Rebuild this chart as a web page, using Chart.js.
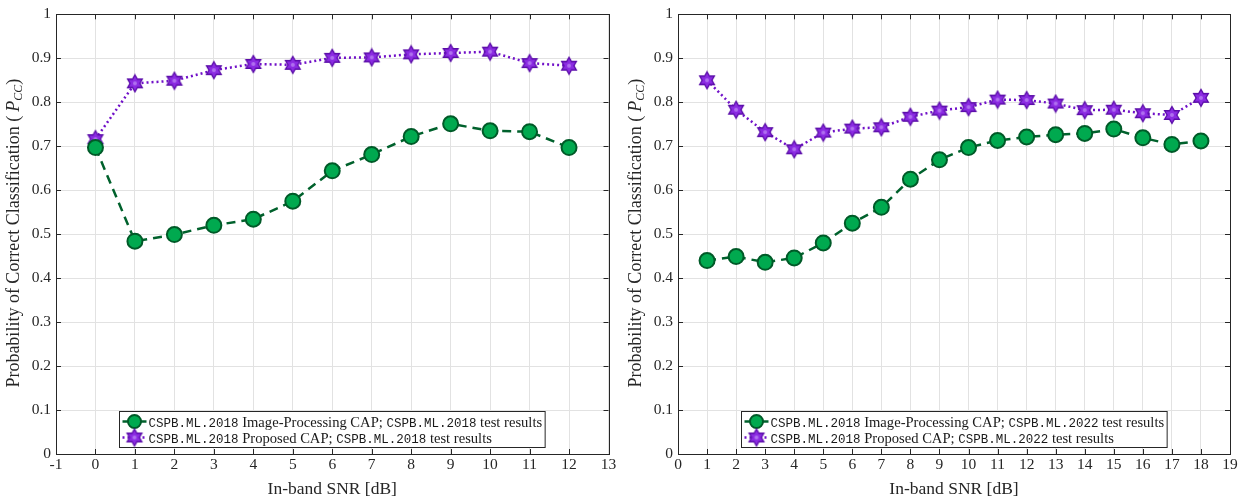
<!DOCTYPE html>
<html>
<head>
<meta charset="utf-8">
<script src="https://cdn.jsdelivr.net/npm/chart.js@4.4.1/dist/chart.umd.min.js"></script>
<style>
  html, body { margin:0; padding:0; background:#fff; }
  #wrap { position:relative; width:1253px; height:498px; }
  .box { position:absolute; top:0; height:498px; }
</style>
</head>
<body>
<div id="wrap">
  <div class="box" style="left:0;width:620px"><canvas id="leftChart"></canvas></div>
  <div class="box" style="left:620px;width:633px"><canvas id="rightChart"></canvas></div>
</div>
<script>
// data
var snrLeft = [0,1,2,3,4,5,6,7,8,9,10,11,12];
var imgCapLeft = [0.697,0.484,0.499,0.520,0.534,0.575,0.644,0.681,0.722,0.751,0.735,0.733,0.697];
var propCapLeft = [0.716,0.843,0.849,0.873,0.887,0.885,0.901,0.902,0.909,0.912,0.915,0.889,0.883];

var snrRight = [1,2,3,4,5,6,7,8,9,10,11,12,13,14,15,16,17,18];
var imgCapRight = [0.440,0.449,0.436,0.446,0.480,0.525,0.561,0.625,0.669,0.697,0.713,0.721,0.726,0.729,0.739,0.719,0.704,0.712];
var propCapRight = [0.850,0.783,0.732,0.693,0.731,0.740,0.743,0.767,0.781,0.789,0.806,0.805,0.797,0.782,0.783,0.775,0.771,0.810];

var legendLeft = [
  [['m','CSPB.ML.2018'],['s',' Image-Processing CAP; '],['m','CSPB.ML.2018'],['s',' test results']],
  [['m','CSPB.ML.2018'],['s',' Proposed CAP; '],['m','CSPB.ML.2018'],['s',' test results']]
];
var legendRight = [
  [['m','CSPB.ML.2018'],['s',' Image-Processing CAP; '],['m','CSPB.ML.2022'],['s',' test results']],
  [['m','CSPB.ML.2018'],['s',' Proposed CAP; '],['m','CSPB.ML.2022'],['s',' test results']]
];

var SERIF = '"Liberation Serif", "DejaVu Serif", serif';
var MONO = '"Liberation Mono", "DejaVu Sans Mono", monospace';
var GREEN_LINE = '#00612c', GREEN_FILL = '#00a94f', GREEN_EDGE = '#005a28';
var PURPLE_LINE = '#7010c8', PURPLE_FILL = '#8b2be2', PURPLE_EDGE = '#5a0ca8';
var LEG_MONO = '12.5px ' + MONO, LEG_SERIF = '14.6px ' + SERIF;

// six-pointed star marker
function makeStar() {
  var c = document.createElement('canvas');
  c.width = 20; c.height = 20;
  var g = c.getContext('2d');
  var cx = 10, cy = 10, r = 8.5;
  g.beginPath();
  for (var i = 0; i < 12; i++) {
    var a = -Math.PI / 2 + i * Math.PI / 6;
    var rr = (i % 2 === 0) ? r : r * 0.577;
    var px = cx + rr * Math.cos(a), py = cy + rr * Math.sin(a);
    if (i === 0) g.moveTo(px, py); else g.lineTo(px, py);
  }
  g.closePath();
  g.fillStyle = PURPLE_FILL; g.fill();
  g.lineWidth = 1.3; g.strokeStyle = PURPLE_EDGE; g.stroke();
  g.beginPath(); g.arc(cx, cy, 2, 0, Math.PI * 2);
  g.fillStyle = '#b070f0'; g.fill();
  return c;
}
var starImg = makeStar();

function toPts(xs, ys) {
  return xs.map(function(x, i) { return { x: x, y: ys[i] }; });
}

function drawSegments(ctx, segs, x, y) {
  segs.forEach(function(s) {
    ctx.font = s[0] === 'm' ? LEG_MONO : LEG_SERIF;
    ctx.fillText(s[1], x, y);
    x += ctx.measureText(s[1]).width;
  });
  return x;
}

var decor = {
  id: 'decor',
  beforeDatasetsDraw: function(chart) {
    var ctx = chart.ctx, a = chart.chartArea;
    var xs = chart.scales.x, ys = chart.scales.y;
    ctx.save();
    ctx.strokeStyle = '#262626'; ctx.lineWidth = 1;
    // inward ticks
    xs.ticks.forEach(function(t) {
      var px = Math.round(xs.getPixelForValue(t.value)) + 0.5;
      ctx.beginPath();
      ctx.moveTo(px, a.bottom); ctx.lineTo(px, a.bottom - 5);
      ctx.moveTo(px, a.top); ctx.lineTo(px, a.top + 5);
      ctx.stroke();
    });
    ys.ticks.forEach(function(t) {
      var py = Math.round(ys.getPixelForValue(t.value)) + 0.5;
      ctx.beginPath();
      ctx.moveTo(a.left, py); ctx.lineTo(a.left + 5, py);
      ctx.moveTo(a.right, py); ctx.lineTo(a.right - 5, py);
      ctx.stroke();
    });
    ctx.strokeRect(Math.round(a.left) + 0.5, Math.round(a.top) + 0.5,
      Math.round(a.right - a.left), Math.round(a.bottom - a.top));
    ctx.restore();
  },
  afterDraw: function(chart) {
    var ctx = chart.ctx, a = chart.chartArea;
    var opts = chart.options.plugins.decor;
    ctx.save();
    ctx.fillStyle = '#262626';
    // x title
    ctx.font = '17.5px ' + SERIF;
    ctx.textAlign = 'center'; ctx.textBaseline = 'alphabetic';
    ctx.fillText('In-band SNR [dB]', (a.left + a.right) / 2, a.bottom + 40);
    // y title
    ctx.translate(a.left - 37, (a.top + a.bottom) / 2 - 1);
    ctx.rotate(-Math.PI / 2);
    ctx.textAlign = 'left';
    var parts = [
      ['18px ' + SERIF, 'Probability of Correct Classification (', 0],
      ['italic 18px ' + SERIF, 'P', 0],
      ['italic 12px ' + SERIF, 'CC', 3],
      ['18px ' + SERIF, ')', 0]
    ];
    var total = 0;
    parts.forEach(function(p) { ctx.font = p[0]; total += ctx.measureText(p[1]).width + (p[1] === 'P' ? 4 : 0); });
    var x = -total / 2;
    parts.forEach(function(p) {
      ctx.font = p[0];
      if (p[1] === 'P') x += 4;
      ctx.fillText(p[1], x, p[2]);
      x += ctx.measureText(p[1]).width;
    });
    ctx.restore();

    // legend
    ctx.save();
    var rows = opts.legend;
    ctx.textBaseline = 'alphabetic';
    var textW = 0;
    rows.forEach(function(r) {
      var w = 0;
      r.forEach(function(s) { ctx.font = s[0] === 'm' ? LEG_MONO : LEG_SERIF; w += ctx.measureText(s[1]).width; });
      textW = Math.max(textW, w);
    });
    var bw = textW + 32, bh = 36;
    var bx = Math.round((a.left + a.right) / 2 - bw / 2) + 0.5;
    var by = Math.round(a.bottom - 7 - bh) + 0.5;
    ctx.fillStyle = '#fff'; ctx.fillRect(bx, by, bw, bh);
    ctx.strokeStyle = '#262626'; ctx.lineWidth = 1; ctx.strokeRect(bx, by, bw, bh);
    var rowY = [by + 10, by + 26];
    // sample 1
    ctx.strokeStyle = GREEN_LINE; ctx.lineWidth = 2.5; ctx.setLineDash([]);
    ctx.beginPath(); ctx.moveTo(bx + 3, rowY[0]); ctx.lineTo(bx + 27, rowY[0]); ctx.stroke();
    ctx.beginPath(); ctx.arc(bx + 15, rowY[0], 6.5, 0, Math.PI * 2);
    ctx.fillStyle = GREEN_FILL; ctx.fill(); ctx.lineWidth = 2; ctx.strokeStyle = GREEN_EDGE; ctx.stroke();
    // sample 2
    ctx.strokeStyle = PURPLE_LINE; ctx.lineWidth = 2.5; ctx.setLineDash([2, 3]);
    ctx.beginPath(); ctx.moveTo(bx + 3, rowY[1]); ctx.lineTo(bx + 27, rowY[1]); ctx.stroke();
    ctx.setLineDash([]);
    ctx.drawImage(starImg, bx + 5, rowY[1] - 10);
    ctx.fillStyle = '#1a1a1a';
    drawSegments(ctx, rows[0], bx + 29, rowY[0] + 5);
    drawSegments(ctx, rows[1], bx + 29, rowY[1] + 5);
    ctx.restore();
  }
};

function makeChart(id, xs, green, purple, xmin, xmax, padRight, yWidth, legend) {
  return new Chart(document.getElementById(id), {
    type: 'line',
    data: {
      datasets: [
        {
          data: toPts(xs, green),
          borderColor: GREEN_LINE, borderWidth: 2.5, borderDash: [9, 6],
          pointStyle: 'circle', pointRadius: 7.5, pointBorderWidth: 2,
          pointBackgroundColor: GREEN_FILL, pointBorderColor: GREEN_EDGE,
          tension: 0
        },
        {
          data: toPts(xs, purple),
          borderColor: PURPLE_LINE, borderWidth: 2.5, borderDash: [2, 3],
          pointStyle: starImg, pointRadius: 9,
          tension: 0
        }
      ]
    },
    options: {
      responsive: true, maintainAspectRatio: false, animation: false,
      layout: { padding: { top: 14, right: padRight, left: 0, bottom: 0 } },
      plugins: { legend: { display: false }, tooltip: { enabled: false }, decor: { legend: legend } },
      scales: {
        x: {
          type: 'linear', min: xmin, max: xmax,
          ticks: { stepSize: 1, color: '#262626', font: { family: SERIF, size: 15.5 }, padding: 2, maxRotation: 0, autoSkip: false },
          grid: { color: '#e2e2e2', drawTicks: false },
          border: { display: false },
          afterFit: function(s) { s.height = 44; }
        },
        y: {
          min: 0, max: 1,
          ticks: { stepSize: 0.1, color: '#262626', font: { family: SERIF, size: 15.5 }, padding: 5,
            callback: function(v) { return String(Math.round(v * 10) / 10); } },
          grid: { color: '#e2e2e2', drawTicks: false },
          border: { display: false },
          afterFit: function(s) { s.width = yWidth; }
        }
      }
    },
    plugins: [decor]
  });
}

makeChart('leftChart', snrLeft, imgCapLeft, propCapLeft, -1, 13, 8, 56, legendLeft);
makeChart('rightChart', snrRight, imgCapRight, propCapRight, 0, 19, 23, 58, legendRight);
</script>
</body>
</html>
